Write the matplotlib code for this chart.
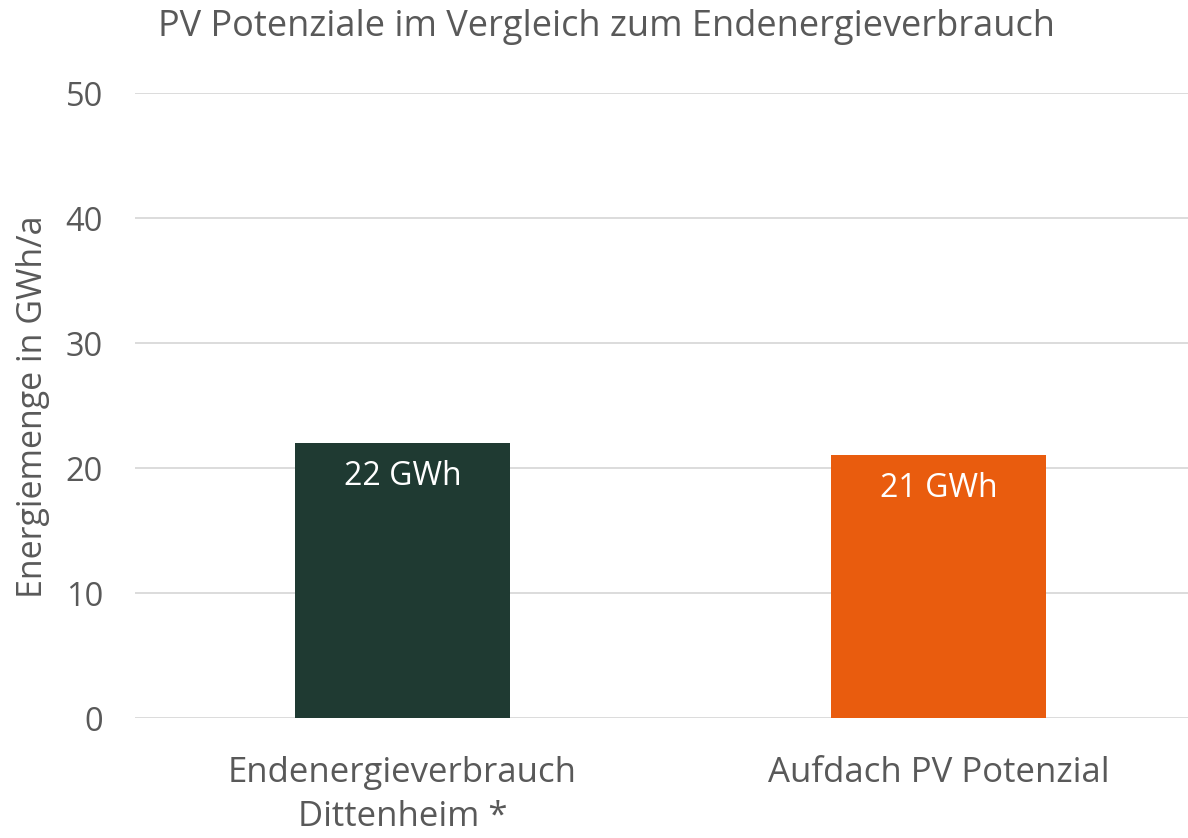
import numpy as np
from matplotlib import pyplot as plt

plt.rcParams['font.family'] = ['Open Sans', 'DejaVu Sans']

categories = ["Endenergieverbrauch\nDittenheim *", "Aufdach PV Potenzial"]
values = [22, 21]
bar_labels = ["22 GWh", "21 GWh"]
colors = ["#1F3A32", "#E95C0E"]
yticks = [0, 10, 20, 30, 40, 50]

text_color = "#595959"

fig = plt.figure(figsize=(11.88, 8.38), dpi=100)
ax = fig.add_axes([135/1188, 1 - 718/838, 1 - 135/1188, (718 - 93)/838])

x = np.arange(len(categories))
bars = ax.bar(x, values, width=0.40, color=colors, zorder=3)

for b, lab in zip(bars, bar_labels):
    ax.annotate(lab, (b.get_x() + b.get_width()/2, b.get_height()),
                xytext=(0, -33), textcoords="offset pixels",
                ha="center", va="center", color="white", fontsize=23)

ax.set_ylim(0, 50)
ax.set_xlim(-0.499, 1.465)
ax.set_yticks(yticks)
ax.set_xticks(x)
ax.set_xticklabels(categories, fontsize=25, color=text_color, linespacing=1.42)
ax.tick_params(axis="y", length=0, pad=23, labelsize=23.5, labelcolor=text_color)
ax.tick_params(axis="x", length=0, pad=27)
ax.grid(axis="y", color="#D9D9D9", linewidth=1.3, zorder=0)
for s in ax.spines.values():
    s.set_visible(False)

ax.set_ylabel("Energiemenge in GWh/a", fontsize=24.5, color=text_color)
ax.yaxis.set_label_coords(-(135 - 50)/1053, (718 - 407)/625)

fig.text(606/1188, 1 - 27/838, "PV Potenziale im Vergleich zum Endenergieverbrauch",
         ha="center", va="center", fontsize=26, color=text_color)

plt.savefig("out.png", dpi=100)
